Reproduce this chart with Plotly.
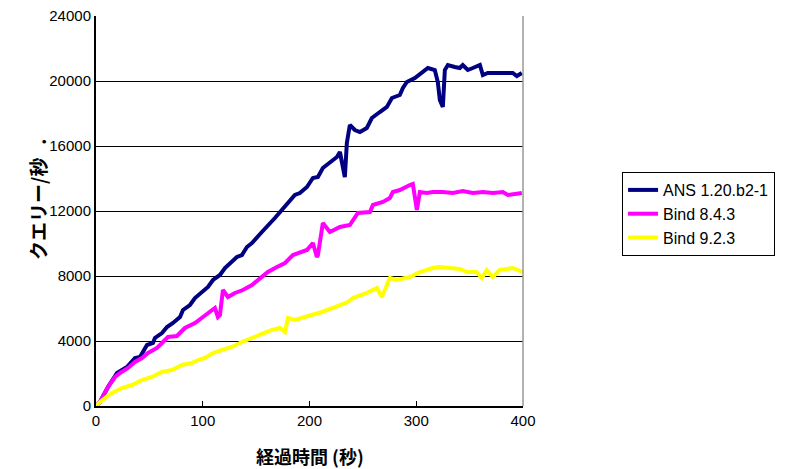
import plotly.graph_objects as go

# ANS 1.20.b2-1
ans_x = [0, 3.7, 11.2, 19.7, 29.0, 36.5, 41.2, 47.8, 53.4, 55.2, 61.8, 66.5, 72.1, 78.7, 81.5, 88.0, 92.7, 99.3,
         104.9, 109.6, 116.1, 120.8, 127.3, 132.0, 136.7, 141.4, 146.1, 150.7, 155.4, 167.6, 174.2, 186.3, 191.0,
         197.6, 203.2, 207.9, 212.5, 219.1, 225.7, 228.5, 231.3, 233.1, 235.0, 237.8, 242.5, 247.2, 253.7, 258.4,
         265.9, 272.5, 277.2, 284.6, 287.5, 291.2, 298.7, 305.2, 310.9, 317.4, 320.2, 322.1, 324.9, 326.8, 329.6,
         336.1, 340.8, 343.6, 348.3, 353.0, 359.6, 362.4, 367.0, 390.4, 394.2, 398.9]
ans_y = [0, 246, 1169, 2031, 2400, 2954, 3015, 3754, 3877, 4185, 4492, 4862, 5108, 5477, 5908, 6215, 6646, 7015,
         7323, 7754, 8062, 8492, 8862, 9169, 9292, 9785, 10031, 10338, 10708, 11570, 12062, 12985, 13108,
         13477, 14031, 14092, 14646, 15015, 15323, 15631, 14523, 14092, 16185, 17292, 16985, 16862, 17108, 17723,
         18092, 18400, 18954, 19138, 19569, 19938, 20185, 20554, 20800, 20677, 19938, 18831, 18400, 20677, 20985,
         20862, 20800, 20985, 20677, 20800, 20985, 20369, 20492, 20492, 20308, 20492]

# Bind 8.4.3
b84_x = [0, 3.7, 11.2, 17.8, 22.5, 30.0, 36.5, 43.1, 48.7, 57.1, 61.8, 67.4, 75.8, 83.3, 92.7, 99.3, 106.7, 111.4,
         114.2, 116.1, 118.9, 123.6, 130.1, 137.6, 146.1, 153.6, 161.0, 169.5, 177.0, 184.5, 193.8, 197.6, 203.2,
         206.9, 207.9, 212.5, 219.1, 228.5, 237.8, 245.3, 256.6, 259.4, 268.7, 275.3, 278.1, 284.6, 294.0, 296.8,
         300.6, 303.4, 309.9, 315.5, 324.9, 334.3, 343.6, 353.0, 362.4, 371.7, 381.1, 385.8, 398.9]
b84_y = [0, 246, 1169, 1785, 2031, 2338, 2708, 2954, 3262, 3569, 3877, 4246, 4308, 4800, 5108, 5415, 5785, 6031,
         5477, 5600, 7138, 6708, 6954, 7138, 7446, 7877, 8246, 8554, 8800, 9292, 9477, 9600, 10031,
         9169, 9292, 11262, 10708, 11015, 11138, 11877, 11938, 12369, 12554, 12800, 13169, 13292, 13600, 13662,
         12062, 13169, 13108, 13169, 13169, 13108, 13231, 13108, 13169, 13108, 13169, 12985, 13108]

# Bind 9.2.3
b92_x = [0, 3.7, 15.0, 24.3, 33.7, 43.1, 52.4, 61.8, 71.2, 80.5, 89.9, 95.5, 102.1, 109.6, 118.0, 127.3, 136.7,
         146.1, 155.4, 164.8, 172.3, 177.0, 179.8, 186.3, 195.7, 203.2, 211.6, 223.8, 236.0, 240.6, 253.7, 263.1,
         267.8, 275.3, 281.8, 294.0, 303.4, 315.5, 322.1, 331.5, 340.8, 347.4, 356.7, 361.4, 366.1, 371.7, 378.3,
         390.4, 399.8]
b92_y = [0, 246, 800, 1108, 1292, 1600, 1785, 2092, 2215, 2523, 2646, 2831, 2954, 3262, 3446, 3631, 3938,
         4185, 4492, 4677, 4800, 4554, 5415, 5292, 5477, 5600, 5785, 6092, 6400, 6646, 6954, 7262,
         6708, 7877, 7754, 7938, 8246, 8492, 8554, 8492, 8431, 8246, 8246, 7877, 8369, 7938, 8369,
         8492, 8246]

series_names = ["ANS 1.20.b2-1", "Bind 8.4.3", "Bind 9.2.3"]
series_colors = ["#000080", "#FF00FF", "#FFFF00"]

x_ticks = [0, 100, 200, 300, 400]
x_ticktext = ["0", "100", "200", "300", "400"]
y_ticks = [0, 4000, 8000, 12000, 16000, 20000, 24000]
y_ticktext = ["0", "4000", "8000", "12000", "16000", "20000", "24000"]

fig = go.Figure()
for name, xs, ys, col in zip(series_names, [ans_x, b84_x, b92_x], [ans_y, b84_y, b92_y], series_colors):
    fig.add_trace(go.Scatter(x=xs, y=ys, mode="lines", name=name,
                             line=dict(color=col, width=4)))

tick_font = dict(family="Liberation Sans, Arial", size=15, color="black")
fig.update_layout(
    width=785, height=469,
    margin=dict(l=88, r=270, t=8, b=71, autoexpand=False),
    paper_bgcolor="white", plot_bgcolor="white",
    showlegend=True,
    legend=dict(x=1.232, y=0.6, xanchor="left", yanchor="top",
                bordercolor="black", borderwidth=1, bgcolor="white",
                font=dict(family="Liberation Sans, Arial", size=16, color="black"),
                tracegroupgap=0),
    xaxis=dict(range=[0, 400], tickvals=x_ticks, ticktext=x_ticktext, ticks="inside", ticklen=5,
               tickcolor="black", automargin=False, ticklabeloverflow="allow",
               showline=True, linecolor="black", linewidth=2, showgrid=False, zeroline=False,
               tickfont=tick_font, title=None),
    yaxis=dict(range=[0, 24000], tickvals=y_ticks, ticktext=y_ticktext, ticks="inside", ticklen=5,
               tickcolor="black", automargin=False, ticklabeloverflow="allow",
               showline=True, linecolor="black", linewidth=2, showgrid=True, gridcolor="black", gridwidth=1,
               zeroline=False, tickfont=tick_font, title=None),
)
fig.add_shape(type="line", xref="paper", yref="paper", x0=1, x1=1, y0=0, y1=1,
              line=dict(color="#999999", width=1.5))
fig.add_annotation(text="クエリー/秒\u00a0\u00a0\u00a0.", xref="paper", yref="paper", x=-0.173, y=0.53,
                   textangle=-90, showarrow=False,
                   font=dict(family="Noto Sans CJK JP", size=19, color="black", weight="bold"))
fig.add_annotation(text="経過時間 (秒)", xref="paper", yref="paper", x=0.5, y=-0.128,
                   yanchor="middle", showarrow=False,
                   font=dict(family="Noto Sans CJK JP", size=18, color="black", weight="bold"))
fig.write_html("out.html")
